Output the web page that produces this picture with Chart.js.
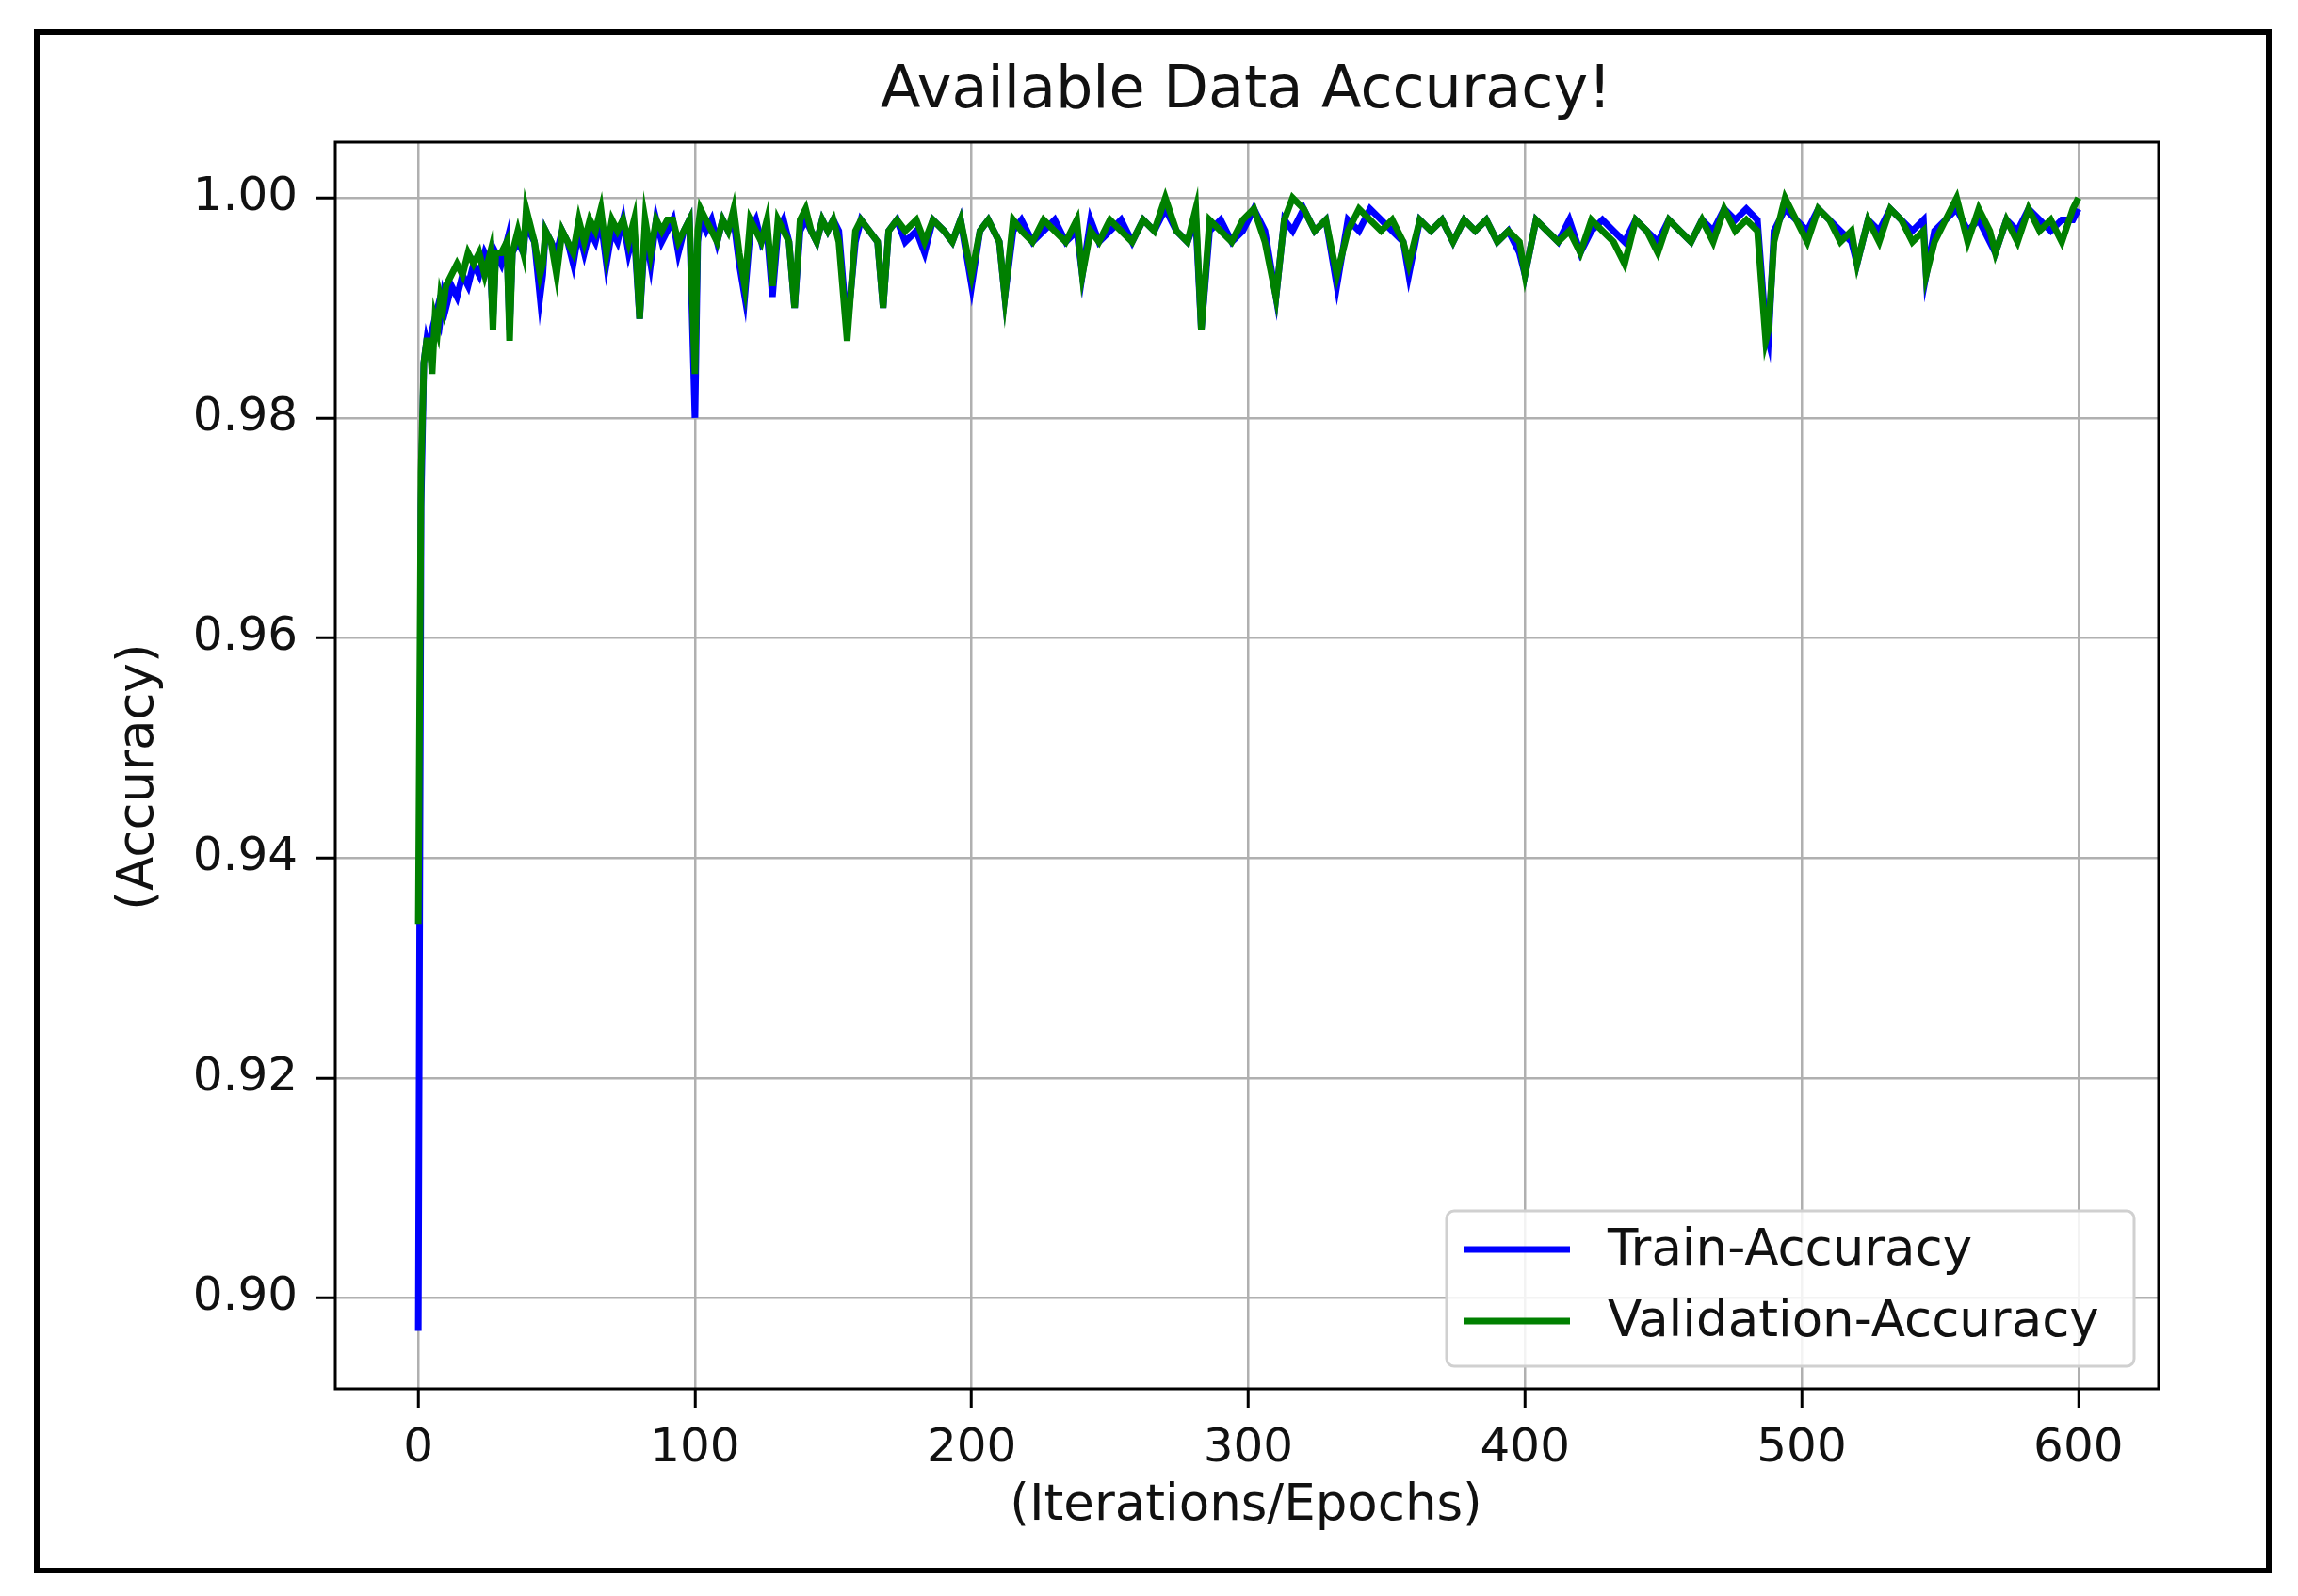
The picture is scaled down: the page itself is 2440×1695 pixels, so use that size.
<!DOCTYPE html>
<html><head><meta charset="utf-8">
<script src="https://cdn.jsdelivr.net/npm/chart.js@4/dist/chart.umd.min.js"></script>
<style>html,body{margin:0;padding:0;background:#fff}#w{width:2440px;height:1695px}</style>
</head><body><div id="w"><canvas id="c"></canvas></div>
<script>
const epochs = [0,1,2,3,4,5,6,7,8,9,10,12,14,16,18,20,22,24,26,27,28,30,32,33,34,36,38,39,40,42,44,45,46,48,50,52,54,56,58,60,62,64,66,68,70,72,74,76,78,80,82,84,86,88,90,92,94,96,98,100,101,102,104,106,108,110,112,114,116,118,120,122,124,126,128,130,132,134,136,138,140,142,144,146,148,150,152,155,158,160,163,166,168,170,173,176,180,183,186,190,193,196,200,203,206,210,212,215,218,222,226,230,234,238,240,243,246,250,254,258,262,266,270,274,278,281,283,286,290,294,298,302,306,310,313,316,320,324,328,332,336,340,344,348,352,356,358,362,366,370,374,378,382,386,390,394,398,400,404,408,412,416,420,424,428,432,436,440,444,448,452,456,460,464,468,472,476,480,484,487,488,490,494,498,502,506,510,514,518,520,524,528,532,536,540,544,545,548,552,556,560,564,568,570,574,578,582,586,590,594,598,600];
const trainAcc = [0.897,0.972,0.985,0.987,0.986,0.988,0.989,0.990,0.989,0.991,0.990,0.992,0.991,0.993,0.992,0.994,0.993,0.995,0.994,0.989,0.995,0.994,0.996,0.988,0.995,0.996,0.995,0.998,0.997,0.996,0.991,0.993,0.997,0.996,0.995,0.997,0.996,0.994,0.997,0.995,0.997,0.996,0.998,0.994,0.997,0.996,0.998,0.995,0.997,0.989,0.997,0.994,0.998,0.996,0.997,0.998,0.995,0.997,0.998,0.980,0.996,0.998,0.997,0.998,0.996,0.998,0.997,0.998,0.994,0.991,0.997,0.998,0.996,0.997,0.991,0.997,0.998,0.996,0.990,0.997,0.998,0.997,0.996,0.998,0.997,0.998,0.997,0.988,0.996,0.998,0.997,0.996,0.990,0.997,0.998,0.996,0.997,0.995,0.998,0.997,0.996,0.998,0.992,0.997,0.998,0.996,0.991,0.997,0.998,0.996,0.997,0.998,0.996,0.997,0.993,0.998,0.996,0.997,0.998,0.996,0.998,0.997,0.999,0.997,0.996,0.998,0.988,0.997,0.998,0.996,0.997,0.999,0.997,0.991,0.998,0.997,0.999,0.997,0.998,0.992,0.998,0.997,0.999,0.998,0.997,0.996,0.993,0.998,0.997,0.998,0.996,0.998,0.997,0.998,0.996,0.997,0.995,0.993,0.998,0.997,0.996,0.998,0.995,0.997,0.998,0.997,0.996,0.998,0.997,0.996,0.998,0.997,0.996,0.998,0.997,0.999,0.998,0.999,0.998,0.988,0.987,0.997,0.999,0.998,0.997,0.999,0.998,0.997,0.996,0.994,0.998,0.997,0.999,0.998,0.997,0.998,0.993,0.997,0.998,0.999,0.997,0.998,0.996,0.995,0.998,0.997,0.999,0.998,0.997,0.998,0.998,0.999];
const valAcc = [0.934,0.975,0.985,0.987,0.987,0.984,0.989,0.988,0.991,0.990,0.992,0.993,0.994,0.993,0.995,0.994,0.995,0.993,0.995,0.988,0.995,0.995,0.996,0.987,0.995,0.997,0.995,0.999,0.998,0.996,0.993,0.994,0.997,0.996,0.993,0.997,0.996,0.995,0.998,0.996,0.998,0.997,0.999,0.995,0.998,0.997,0.998,0.996,0.998,0.989,0.998,0.995,0.998,0.997,0.998,0.998,0.996,0.997,0.998,0.984,0.997,0.999,0.998,0.997,0.996,0.998,0.997,0.999,0.995,0.992,0.998,0.997,0.996,0.998,0.992,0.998,0.997,0.996,0.990,0.998,0.999,0.997,0.996,0.998,0.997,0.998,0.996,0.987,0.997,0.998,0.997,0.996,0.990,0.997,0.998,0.997,0.998,0.996,0.998,0.997,0.996,0.998,0.993,0.997,0.998,0.996,0.991,0.998,0.997,0.996,0.998,0.997,0.996,0.998,0.993,0.997,0.996,0.998,0.997,0.996,0.998,0.997,1.000,0.997,0.996,0.999,0.988,0.998,0.997,0.996,0.998,0.999,0.996,0.991,0.998,1.000,0.999,0.997,0.998,0.993,0.997,0.999,0.998,0.997,0.998,0.996,0.994,0.998,0.997,0.998,0.996,0.998,0.997,0.998,0.996,0.997,0.996,0.993,0.998,0.997,0.996,0.997,0.995,0.998,0.997,0.996,0.994,0.998,0.997,0.995,0.998,0.997,0.996,0.998,0.996,0.999,0.997,0.998,0.997,0.987,0.988,0.996,1.000,0.998,0.996,0.999,0.998,0.996,0.997,0.994,0.998,0.996,0.999,0.998,0.996,0.997,0.993,0.996,0.998,1.000,0.996,0.999,0.997,0.995,0.998,0.996,0.999,0.997,0.998,0.996,0.999,1.000];
const xTicks = [0,100,200,300,400,500,600];
const yTicks = [0.90,0.92,0.94,0.96,0.98,1.00];
const seriesNames = ['Train-Accuracy','Validation-Accuracy'];
const titleText = 'Available Data Accuracy!';
const xLabel = '(Iterations/Epochs)';
const yLabel = '(Accuracy)';
const FONT = '"DejaVu Sans", sans-serif';

const deco = {
  id:'deco',
  afterDraw(ch){
    const c = ch.ctx, a = ch.chartArea;
    c.save();
    c.strokeStyle='#000'; c.lineWidth=3;
    c.strokeRect(a.left,a.top,a.right-a.left,a.bottom-a.top);
    c.lineWidth=6; c.strokeRect(39,34,2370,1634);
    c.fillStyle='#111'; c.textAlign='center'; c.textBaseline='middle';
    c.font='62px '+FONT; c.fillText(titleText,1323,98);
    c.font='53px '+FONT; c.fillText(xLabel,1323,1600);
    c.translate(148,825); c.rotate(-Math.PI/2); c.fillText(yLabel,0,0);
    c.restore();
    // legend
    c.save();
    const lx=1536, ly=1286, lw=730, lh=165;
    c.fillStyle='rgba(255,255,255,0.85)'; c.strokeStyle='#d0d0d0'; c.lineWidth=3;
    c.beginPath(); c.roundRect(lx,ly,lw,lh,8); c.fill(); c.stroke();
    const cols=['#0000ff','#008000'];
    c.font='53px '+FONT; c.textBaseline='middle'; c.textAlign='left'; c.lineWidth=7;
    seriesNames.forEach((n,i)=>{
      const y=ly+41+i*76;
      c.strokeStyle=cols[i]; c.beginPath(); c.moveTo(lx+18,y); c.lineTo(lx+131,y); c.stroke();
      c.fillStyle='#111'; c.fillText(n,lx+171,y+2);
    });
    c.restore();
  }
};

new Chart(document.getElementById('c'),{
  type:'line',
  data:{datasets:[
    {label:seriesNames[0],order:1,data:epochs.map((e,i)=>({x:e,y:trainAcc[i]})),borderColor:'#0000ff',borderWidth:7,pointRadius:0,tension:0},
    {label:seriesNames[1],order:0,data:epochs.map((e,i)=>({x:e,y:valAcc[i]})),borderColor:'#008000',borderWidth:7,pointRadius:0,tension:0}
  ]},
  options:{
    responsive:true,maintainAspectRatio:false,animation:false,
    layout:{padding:{left:0,top:151,right:148,bottom:0}},
    plugins:{legend:{display:false},tooltip:{enabled:false}},
    scales:{
      x:{type:'linear',min:-30,max:629,
        afterBuildTicks(s){s.ticks=xTicks.map(v=>({value:v}));},
        afterFit(s){s.height=220;},
        grid:{color:'#b0b0b0',lineWidth:2.5,tickColor:'#000',tickLength:20,tickWidth:3},
        border:{display:false},
        ticks:{color:'#111',font:{family:FONT,size:50},padding:14,maxRotation:0,callback:v=>String(v)}},
      y:{type:'linear',min:0.89174,max:1.00506,
        afterBuildTicks(s){s.ticks=yTicks.map(v=>({value:v}));},
        afterFit(s){s.width=356;},
        grid:{color:'#b0b0b0',lineWidth:2.5,tickColor:'#000',tickLength:20,tickWidth:3},
        border:{display:false},
        ticks:{color:'#111',font:{family:FONT,size:50},padding:20,callback:v=>Number(v).toFixed(2)}}
    }
  },
  plugins:[deco]
});
</script></body></html>
